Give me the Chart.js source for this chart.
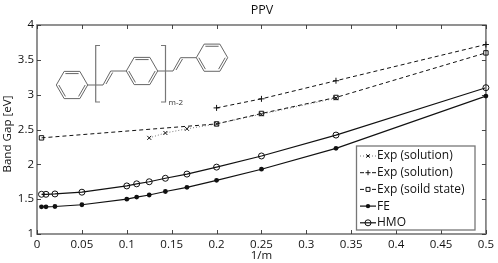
<!DOCTYPE html>
<html>
<head>
<meta charset="utf-8">
<script src="https://cdn.jsdelivr.net/npm/chart.js@4"></script>
<style>
html, body { margin: 0; padding: 0; background: #fff; }
#wrap { width: 498px; height: 263px; }
</style>
</head>
<body>
<div id="wrap"><canvas id="ppvChart" width="498" height="263"></canvas></div>
<script>
// values
const mSolutionA = [0.125, 0.143, 0.167, 0.2, 0.25, 0.333];
const gapSolutionA = [2.38, 2.45, 2.51, 2.58, 2.72, 2.95];
const mSolutionB = [0.2, 0.25, 0.333, 0.5];
const gapSolutionB = [2.81, 2.94, 3.2, 3.72];
const mSolid = [0.005, 0.2, 0.25, 0.333, 0.5];
const gapSolid = [2.38, 2.58, 2.73, 2.96, 3.6];
const mCalc = [0.005, 0.01, 0.02, 0.05, 0.1, 0.111, 0.125, 0.143, 0.167, 0.2, 0.25, 0.333, 0.5];
const gapFE = [1.39, 1.39, 1.395, 1.42, 1.5, 1.53, 1.56, 1.61, 1.67, 1.77, 1.93, 2.23, 2.98];
const gapHMO = [1.57, 1.57, 1.575, 1.6, 1.69, 1.72, 1.75, 1.8, 1.86, 1.96, 2.12, 2.42, 3.1];
const xTicks = [0, 0.05, 0.1, 0.15, 0.2, 0.25, 0.3, 0.35, 0.4, 0.45, 0.5];
const yTicks = [1, 1.5, 2, 2.5, 3, 3.5, 4];
const legendLabels = ['Exp (solution)', 'Exp (solution)', 'Exp (soild state)', 'FE', 'HMO'];

const FONT = '"Open Sans", "Noto Sans", sans-serif';
const INK = '#111';
const FRAME = '#777';

function pairs(xs, ys) {
    return xs.map((x, i) => ({ x: x, y: ys[i] }));
}

// marker shapes, same for the plot and the legend
function drawMarker(ctx, kind, x, y, size) {
    ctx.save();
    ctx.strokeStyle = INK;
    ctx.fillStyle = INK;
    ctx.lineWidth = 1;
    ctx.setLineDash([]);
    ctx.beginPath();
    if (kind === 'cross') {
        ctx.moveTo(x - size, y - size); ctx.lineTo(x + size, y + size);
        ctx.moveTo(x - size, y + size); ctx.lineTo(x + size, y - size);
        ctx.stroke();
    } else if (kind === 'plus') {
        ctx.moveTo(x - size, y); ctx.lineTo(x + size, y);
        ctx.moveTo(x, y - size); ctx.lineTo(x, y + size);
        ctx.stroke();
    } else if (kind === 'square') {
        ctx.rect(x - size, y - size, size * 2, size * 2);
        ctx.stroke();
    } else if (kind === 'dot') {
        ctx.arc(x, y, size, 0, Math.PI * 2);
        ctx.fill();
    } else {
        ctx.arc(x, y, size, 0, Math.PI * 2);
        ctx.stroke();
    }
    ctx.restore();
}

const seriesStyles = [
    { marker: 'cross', size: 2, keySize: 1.7, dash: [1, 2], keyDash: [1, 2], width: 0.8, color: '#555' },
    { marker: 'plus', size: 3, keySize: 2.5, dash: [4, 3], keyDash: [4, 8], width: 1, color: INK },
    { marker: 'square', size: 2.2, keySize: 2, dash: [4, 3], keyDash: [4, 8], width: 1, color: INK },
    { marker: 'dot', size: 2.4, keySize: 2.2, dash: [], keyDash: [], width: 1.2, color: INK },
    { marker: 'circle', size: 3, keySize: 3, dash: [], keyDash: [], width: 1.2, color: INK }
];

// axes frame with inward ticks on all four sides
const framePlugin = {
    id: 'frame',
    afterDatasetsDraw(chart) {
        const ctx = chart.ctx;
        const a = chart.chartArea;
        const sx = chart.scales.x;
        const sy = chart.scales.y;
        ctx.save();
        ctx.strokeStyle = FRAME;
        ctx.lineWidth = 1.6;
        ctx.strokeRect(a.left, a.top, a.right - a.left, a.bottom - a.top);
        ctx.strokeStyle = '#333';
        ctx.lineWidth = 0.9;
        ctx.beginPath();
        xTicks.forEach(v => {
            const px = Math.round(sx.getPixelForValue(v)) + 0.5;
            ctx.moveTo(px, a.bottom); ctx.lineTo(px, a.bottom - 4);
            ctx.moveTo(px, a.top); ctx.lineTo(px, a.top + 4);
        });
        yTicks.forEach(v => {
            const py = Math.round(sy.getPixelForValue(v)) + 0.5;
            ctx.moveTo(a.left, py); ctx.lineTo(a.left + 4, py);
            ctx.moveTo(a.right, py); ctx.lineTo(a.right - 4, py);
        });
        ctx.stroke();
        ctx.restore();

        chart.data.datasets.forEach((ds, i) => {
            const st = seriesStyles[i];
            ds.data.forEach(p => {
                drawMarker(ctx, st.marker, sx.getPixelForValue(p.x), sy.getPixelForValue(p.y), st.size);
            });
        });
    }
};

// legend box inside the lower right corner
const legendPlugin = {
    id: 'boxLegend',
    afterDraw(chart) {
        const ctx = chart.ctx;
        const left = 356.5, top = 146, w = 118.5, h = 84;
        ctx.save();
        ctx.fillStyle = '#fff';
        ctx.fillRect(left, top, w, h);
        ctx.strokeStyle = FRAME;
        ctx.lineWidth = 1.3;
        ctx.strokeRect(left, top, w, h);
        ctx.font = '12px ' + FONT;
        ctx.textBaseline = 'middle';
        ctx.textAlign = 'left';
        legendLabels.forEach((label, i) => {
            const st = seriesStyles[i];
            const y = top + 10 + i * 16.7;
            ctx.strokeStyle = st.color;
            ctx.lineWidth = st.width;
            ctx.setLineDash(st.keyDash);
            ctx.beginPath();
            ctx.moveTo(360, y);
            ctx.lineTo(376, y);
            ctx.stroke();
            ctx.setLineDash([]);
            drawMarker(ctx, st.marker, 368, y, st.keySize);
            ctx.fillStyle = INK;
            ctx.fillText(label, 377, y);
        });
        ctx.restore();
    }
};

// PPV repeat unit sketch in the upper left corner
const moleculePlugin = {
    id: 'molecule',
    afterDraw(chart) {
        const ctx = chart.ctx;
        ctx.save();
        ctx.strokeStyle = '#555';
        ctx.lineWidth = 0.9;
        function ring(cx, cy) {
            const r = 15.7;
            const p = [];
            for (let i = 0; i < 6; i++) {
                const t = i * Math.PI / 3;
                p.push([cx + r * Math.cos(t), cy + r * Math.sin(t)]);
            }
            ctx.beginPath();
            p.forEach((q, i) => { if (i === 0) ctx.moveTo(q[0], q[1]); else ctx.lineTo(q[0], q[1]); });
            ctx.closePath();
            ctx.stroke();
            // inner double bonds
            [[0, 1], [2, 3], [4, 5]].forEach(e => {
                const a = p[e[0]], b = p[e[1]];
                const s = 0.84;
                ctx.beginPath();
                ctx.moveTo(cx + (a[0] - cx) * s, cy + (a[1] - cy) * s);
                ctx.lineTo(cx + (b[0] - cx) * s, cy + (b[1] - cy) * s);
                ctx.stroke();
            });
        }
        function path(pts) {
            ctx.beginPath();
            pts.forEach((q, i) => { if (i === 0) ctx.moveTo(q[0], q[1]); else ctx.lineTo(q[0], q[1]); });
            ctx.stroke();
        }
        ring(72, 85);
        ring(142, 71);
        ring(212, 57.7);
        path([[87.7, 85], [103, 85], [110.7, 71], [126.3, 71]]);
        path([[106, 84], [112.7, 72.5]]);
        path([[157.7, 71], [173, 71], [180.5, 57.7], [196.3, 57.7]]);
        path([[176, 70], [182.5, 59]]);
        ctx.strokeStyle = '#777';
        ctx.lineWidth = 1.2;
        path([[100, 45.5], [95.7, 45.5], [95.7, 102], [100, 102]]);
        path([[161, 45.5], [165.5, 45.5], [165.5, 102], [161, 102]]);
        ctx.fillStyle = '#333';
        ctx.font = '8px ' + FONT;
        ctx.textBaseline = 'middle';
        ctx.fillText('m-2', 168.5, 102.5);
        ctx.restore();
    }
};

// title and y label sit off centre in the reference, so placed by hand
const labelsPlugin = {
    id: 'labels',
    afterDraw(chart) {
        const ctx = chart.ctx;
        ctx.save();
        ctx.fillStyle = INK;
        ctx.font = '12.5px ' + FONT;
        ctx.textAlign = 'center';
        ctx.textBaseline = 'middle';
        ctx.fillText('PPV', 262, 10);
        ctx.font = '11.6px ' + FONT;
        ctx.translate(8, 134);
        ctx.rotate(-Math.PI / 2);
        ctx.fillText('Band Gap [eV]', 0, 0);
        ctx.restore();
    }
};

function makeDataset(label, xs, ys, st) {
    return {
        label: label,
        data: pairs(xs, ys),
        borderColor: st.color,
        borderWidth: st.width,
        borderDash: st.dash,
        pointRadius: 0,
        showLine: true,
        fill: false,
        tension: 0
    };
}

new Chart(document.getElementById('ppvChart'), {
    type: 'scatter',
    data: {
        datasets: [
            makeDataset(legendLabels[0], mSolutionA, gapSolutionA, seriesStyles[0]),
            makeDataset(legendLabels[1], mSolutionB, gapSolutionB, seriesStyles[1]),
            makeDataset(legendLabels[2], mSolid, gapSolid, seriesStyles[2]),
            makeDataset(legendLabels[3], mCalc, gapFE, seriesStyles[3]),
            makeDataset(legendLabels[4], mCalc, gapHMO, seriesStyles[4])
        ]
    },
    options: {
        responsive: false,
        animation: false,
        layout: { padding: { top: 25, right: 8.5, left: 0, bottom: 0 } },
        plugins: {
            legend: { display: false },
            tooltip: { enabled: false },
            title: { display: false }
        },
        scales: {
            x: {
                type: 'linear',
                min: 0,
                max: 0.5,
                afterFit(scale) { scale.height = 29; },
                afterBuildTicks(scale) { scale.ticks = xTicks.map(v => ({ value: v })); },
                grid: { display: false, drawTicks: false },
                border: { display: false },
                ticks: {
                    color: INK, padding: 4, maxRotation: 0, autoSkip: false,
                    font: { family: FONT, size: 11.5 },
                    callback: v => String(v)
                },
                title: { display: true, text: '1/m', color: INK, padding: 0, font: { family: FONT, size: 11.5 } }
            },
            y: {
                type: 'linear',
                min: 1,
                max: 4,
                afterFit(scale) { scale.width = 37; },
                afterBuildTicks(scale) { scale.ticks = yTicks.map(v => ({ value: v })); },
                grid: { display: false, drawTicks: false },
                border: { display: false },
                ticks: {
                    color: INK, padding: 3, autoSkip: false,
                    font: { family: FONT, size: 11.5 },
                    callback: v => String(v)
                }
            }
        }
    },
    plugins: [framePlugin, moleculePlugin, legendPlugin, labelsPlugin]
});
</script>
</body>
</html>
